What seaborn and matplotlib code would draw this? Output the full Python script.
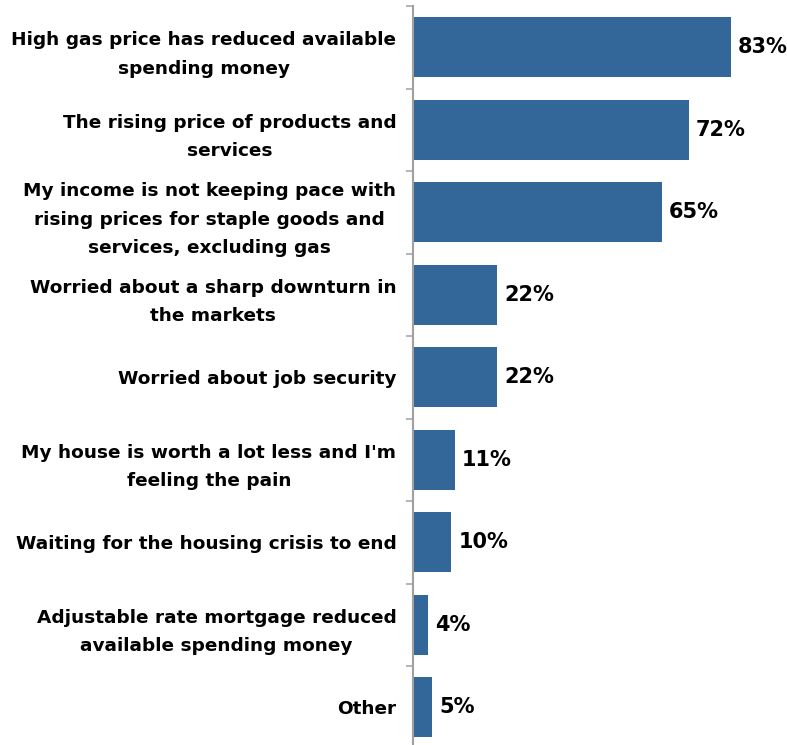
import matplotlib
matplotlib.use("Agg")
import matplotlib.pyplot as plt
import seaborn as sns
import pandas as pd
from matplotlib.ticker import FixedLocator

categories = [
    "High gas price has reduced available\nspending money",
    "The rising price of products and\nservices",
    "My income is not keeping pace with\nrising prices for staple goods and\nservices, excluding gas",
    "Worried about a sharp downturn in\nthe markets",
    "Worried about job security",
    "My house is worth a lot less and I'm\nfeeling the pain",
    "Waiting for the housing crisis to end",
    "Adjustable rate mortgage reduced\navailable spending money",
    "Other",
]
values = [83, 72, 65, 22, 22, 11, 10, 4, 5]
value_labels = [f"{v}%" for v in values]

sns.set_theme(style="white")
plt.rcParams["font.family"] = ["DejaVu Sans"]

df = pd.DataFrame({"reason": categories, "share": values})

W, H = 787, 745
fig = plt.figure(figsize=(W / 100, H / 100), dpi=100)
ax = fig.add_axes([413 / W, 1 - 748.5 / H, (W - 413) / W, 742.5 / H])

sns.barplot(data=df, y="reason", x="share", orient="h", color="#336699",
            saturation=1, width=0.73, linewidth=0, ax=ax)

ax.set_xlim(0, 97.7)
ax.set_ylim(8.5, -0.5)
ax.set_xlabel("")
ax.set_ylabel("")
ax.set_xticks([])

for s in ["top", "right", "bottom"]:
    ax.spines[s].set_visible(False)
ax.spines["left"].set_color("#a0a0a0")
ax.spines["left"].set_linewidth(1.5)

ax.set_yticks(range(len(categories)))
ax.set_yticklabels(categories, fontsize=13.3, fontweight="bold", color="black",
                   multialignment="center", linespacing=1.75)
ax.tick_params(axis="y", which="major", length=0, pad=12)
ax.yaxis.set_minor_locator(FixedLocator([i - 0.5 for i in range(len(categories) + 1)]))
ax.tick_params(axis="y", which="minor", length=5, width=1.1,
               color="#a0a0a0", direction="out", left=True)

for i, (v, lab) in enumerate(zip(values, value_labels)):
    ax.annotate(lab, xy=(v, i), xytext=(7, 0), textcoords="offset pixels",
                ha="left", va="center", fontsize=15, fontweight="bold",
                color="black")

fig.savefig("out.png", dpi=100)
